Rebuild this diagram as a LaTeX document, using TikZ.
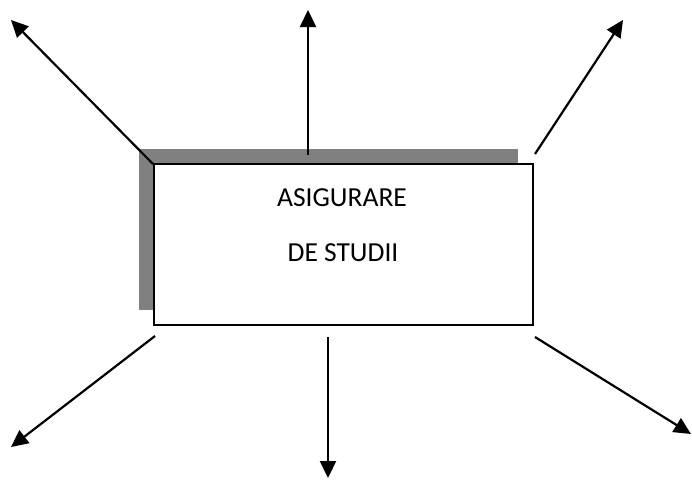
\documentclass[tikz,border=0pt]{standalone}
\usepackage{fontspec}
\setmainfont{Carlito}
\usetikzlibrary{arrows.meta}
\definecolor{shadowgray}{RGB}{128,128,128}
\begin{document}
\begin{tikzpicture}[x=1pt,y=-1pt,
  arr/.style={line width=2.2pt,-{Triangle[length=17pt,width=16pt]}},
  boxstyle/.style={draw=black,line width=2pt,fill=white,minimum width=379pt,minimum height=161pt,inner sep=0pt},
  lbl/.style={font=\fontsize{27.5}{32}\selectfont,inner sep=0pt}]
\useasboundingbox (0,0) rectangle (692,479);
\fill[shadowgray] (139,149) rectangle (518,310);
\node[boxstyle] (box) at (343.5,244.5) {};
\node[lbl] (t1) at (342,198) {ASIGURARE};
\node[lbl] (t2) at (343,253) {DE STUDII};
% start coordinates
\coordinate (s1) at (153,164);
\coordinate (s2) at (308,155);
\coordinate (s3) at (535,154);
\coordinate (s4) at (155,336);
\coordinate (s5) at (328,337);
\coordinate (s6) at (535,337);
% end coordinates
\coordinate (e1) at (11,20);
\coordinate (e2) at (308,10);
\coordinate (e3) at (623,20);
\coordinate (e4) at (11,447);
\coordinate (e5) at (328,478);
\coordinate (e6) at (691,434);
\draw[arr] (s1) -- (e1);
\draw[arr] (s2) -- (e2);
\draw[arr] (s3) -- (e3);
\draw[arr] (s4) -- (e4);
\draw[arr] (s5) -- (e5);
\draw[arr] (s6) -- (e6);
\end{tikzpicture}
\end{document}
